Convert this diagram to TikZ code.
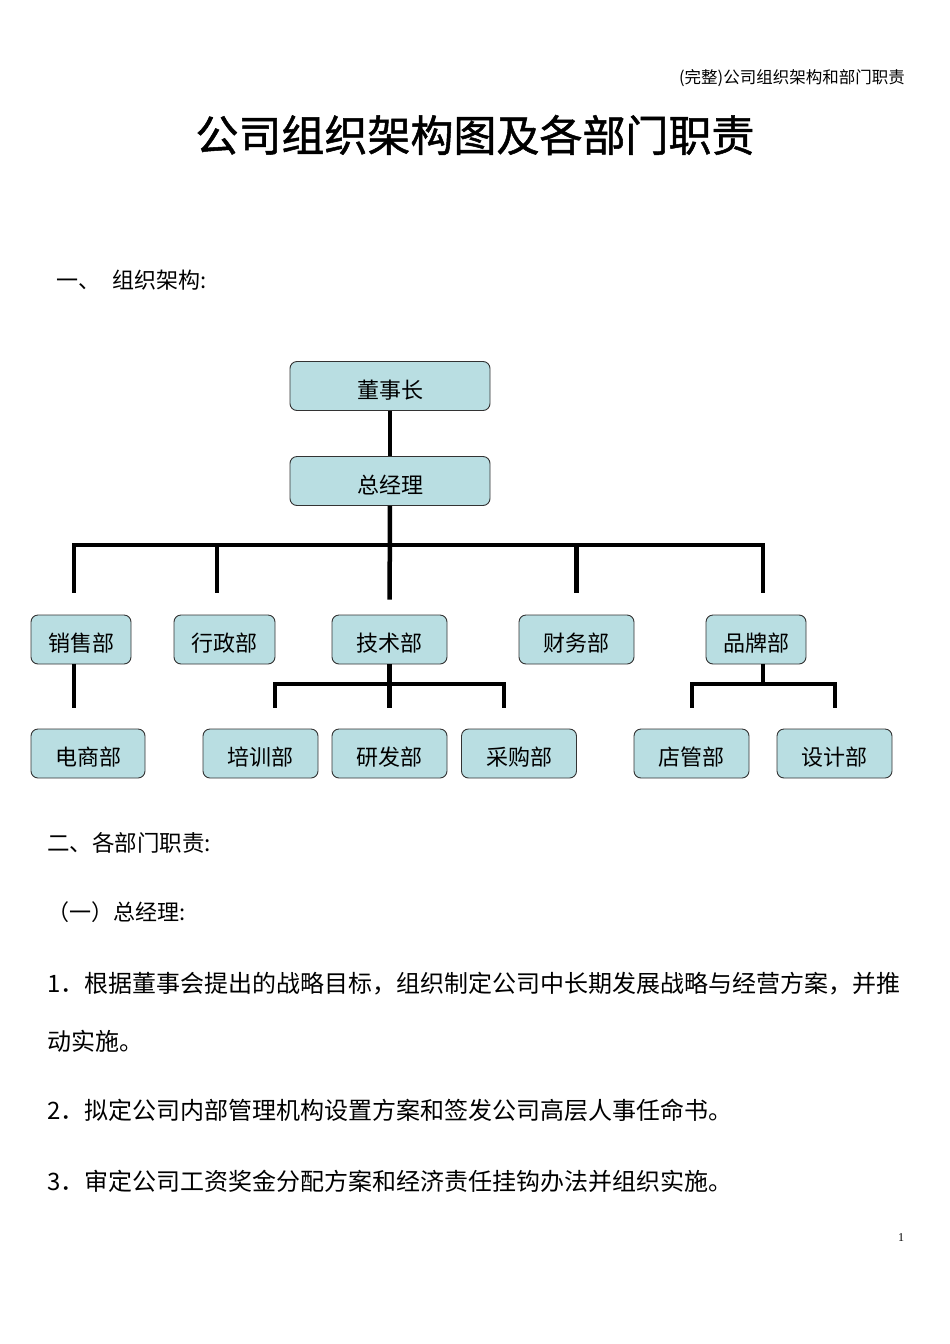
\documentclass[tikz,border=0pt]{standalone}
\usepackage{fontspec}
\setmainfont{Noto Sans CJK SC}
\newfontfamily\titlefont[FakeBold=1.2]{Noto Sans CJK SC}
\newfontfamily\pagenumfont{Liberation Serif}
\usepackage{xcolor}
\definecolor{boxfill}{HTML}{B9DEE2}
\usetikzlibrary{positioning}

\begin{document}
\begin{tikzpicture}[x=1pt, y=-1pt,
    box/.style={draw=black!80, fill=boxfill, rounded corners=7pt, line width=0.9pt,
                minimum height=49pt, inner sep=0pt, text height=26pt, text depth=2pt,
                font=\fontsize{22}{22}\selectfont},
    link/.style={line width=4.5pt},
    txt/.style={anchor=west, inner sep=0pt}]
      \useasboundingbox[fill=white] (0,0) rectangle (950,1344);

      % page text
      \node[anchor=east, inner sep=0pt, font=\fontsize{16.5}{16.5}\selectfont] (header) at (905,78) {(完整)公司组织架构和部门职责};
      \node[inner sep=0pt, font=\titlefont\fontsize{43}{43}\selectfont] (title) at (475,135) {公司组织架构图及各部门职责};
      \node[txt, font=\fontsize{22}{22}\selectfont] (sec1) at (56,280) {一、\hspace{12pt}组织架构:};

      % boxes
      \node[box, minimum width=200pt] (chair) at (390,386) {董事长};
      \node[box, minimum width=200pt] (gm) at (390,481) {总经理};

      \node[box, minimum width=100pt] (sales) at (81,639.5) {销售部};
      \node[box, minimum width=101pt] (admin) at (224.5,639.5) {行政部};
      \node[box, minimum width=115pt] (tech) at (389.5,639.5) {技术部};
      \node[box, minimum width=115pt] (fin) at (576.5,639.5) {财务部};
      \node[box, minimum width=100pt] (brand) at (756,639.5) {品牌部};

      \node[box, minimum width=114pt] (ecom) at (88,753.5) {电商部};
      \node[box, minimum width=115pt] (train) at (260.5,753.5) {培训部};
      \node[box, minimum width=115pt] (rnd) at (389.5,753.5) {研发部};
      \node[box, minimum width=115pt] (purch) at (519,753.5) {采购部};
      \node[box, minimum width=115pt] (store) at (691.5,753.5) {店管部};
      \node[box, minimum width=115pt] (design) at (834.5,753.5) {设计部};

      % bus points
      \coordinate (busL) at (74,545);
      \coordinate (busR) at (763,545);
      \coordinate (busA) at (217,545);
      \coordinate (techL) at (275,684);
      \coordinate (techR) at (504,684);
      \coordinate (brandL) at (692,684);
      \coordinate (brandR) at (835,684);

      \draw[link] (chair) -- (gm);
      \draw[link, shorten >=15pt] (gm) -- (tech);
      \draw[link, shorten <=22pt, shorten >=22pt] (busL |- sales.north) -- (busL) -- (busR) -- (busR |- brand.north);
      \draw[link, shorten >=22pt] (busA) -- (busA |- admin.north);
      \draw[link, shorten >=22pt] (fin |- busL) -- (fin);

      \draw[link, shorten >=21pt] (busL |- sales.south) -- (busL |- ecom.north);
      \draw[link, shorten >=21pt] (tech) -- (rnd);
      \draw[link, shorten <=21pt, shorten >=21pt] (techL |- train.north) -- (techL) -- (techR) -- (techR |- purch.north);
      \draw[link] (busR |- brand.south) -- (busR |- brandL);
      \draw[link, shorten <=21pt, shorten >=21pt] (brandL |- store.north) -- (brandL) -- (brandR) -- (brandR |- design.north);

      % duties
      \node[txt, font=\fontsize{22.5}{22.5}\selectfont] (sec2) at (47,843) {二、各部门职责:};
      \node[txt, font=\fontsize{22}{22}\selectfont] (sub1) at (47,912) {（一）总经理:};
      \node[txt, font=\fontsize{24}{24}\selectfont] (duty1) at (47,984) {1．根据董事会提出的战略目标，组织制定公司中长期发展战略与经营方案，并推};
      \node[txt, font=\fontsize{24}{24}\selectfont] (duty1b) at (47,1041) {动实施。};
      \node[txt, font=\fontsize{24}{24}\selectfont] (duty2) at (47,1110) {2．拟定公司内部管理机构设置方案和签发公司高层人事任命书。};
      \node[txt, font=\fontsize{24}{24}\selectfont] (duty3) at (47,1181) {3．审定公司工资奖金分配方案和经济责任挂钩办法并组织实施。};

      \node[inner sep=0pt, font=\pagenumfont\fontsize{12}{12}\selectfont] (pagenum) at (901,1238) {1};
    \end{tikzpicture}
\end{document}
